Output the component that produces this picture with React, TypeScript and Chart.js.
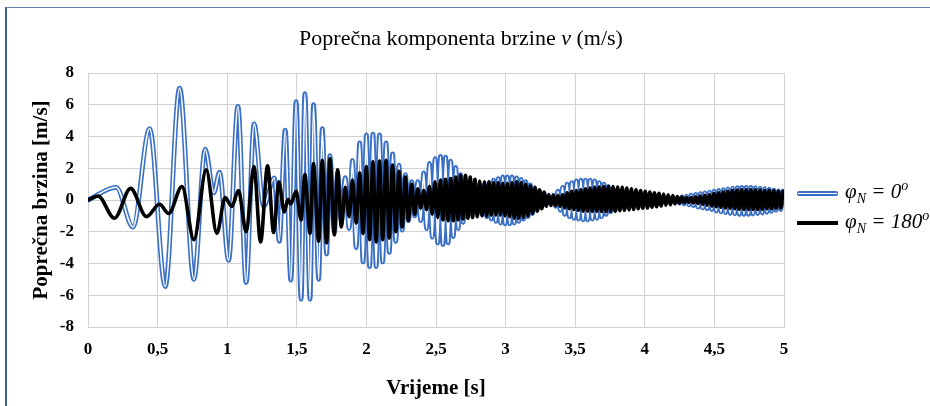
import React, { useEffect, useRef } from "react";
import { Chart, registerables } from "chart.js";

Chart.register(...registerables);

const SERIF = "'Liberation Serif', 'Times New Roman', serif";

const xTickLabels = ["0", "0,5", "1", "1,5", "2", "2,5", "3", "3,5", "4", "4,5", "5"];
const yTickLabels = ["-8", "-6", "-4", "-2", "0", "2", "4", "6", "8"];

// Early part (irregular oscillations), time [s] and value [m/s]
const blueEarlyT = [0, 0.203, 0.323, 0.443, 0.555, 0.658, 0.761, 0.842, 0.904, 0.945, 1.01, 1.077, 1.136, 1.193, 1.262, 1.338, 1.374, 1.417];
const blueEarlyV = [0, 0.8, -1.7, 4.5, -5.45, 7.05, -5.0, 3.2, 0.45, 1.75, -3.8, 5.9, -5.2, 4.8, -0.4, 1.4, -2.6, 4.4];

const blackEarlyT = [0, 0.072, 0.19, 0.306, 0.42, 0.514, 0.58, 0.675, 0.761, 0.849, 0.926, 0.985, 1.033, 1.081, 1.136, 1.192, 1.24, 1.29, 1.334, 1.371, 1.41, 1.437];
const blackEarlyV = [0, 0.25, -1.15, 0.73, -1.05, -0.27, -0.85, 0.85, -2.5, 1.9, -2.1, 0.15, -0.4, 0.6, -2.0, 2.1, -2.65, 2.15, -2.05, 1.15, -0.75, 0.05];

// Dense part: times of the maxima and minima of the oscillation
const topT = [
  1.495, 1.558, 1.62, 1.683, 1.738, 1.793, 1.848, 1.9, 1.952, 2.0,
  2.047, 2.094, 2.141, 2.188, 2.234, 2.28, 2.325, 2.369, 2.412, 2.453,
  2.493, 2.532, 2.569, 2.606, 2.642, 2.677, 2.712, 2.746, 2.78, 2.814,
  2.848, 2.881, 2.914, 2.947, 2.98, 3.013, 3.046, 3.079, 3.112, 3.145,
  3.178, 3.211, 3.244, 3.277, 3.31, 3.343, 3.376, 3.409, 3.442, 3.475,
  3.508, 3.541, 3.574, 3.607, 3.64, 3.673, 3.706, 3.739, 3.772, 3.805,
  3.838, 3.871, 3.904, 3.937, 3.97, 4.003, 4.036, 4.069, 4.102, 4.135,
  4.168, 4.201, 4.234, 4.267, 4.3, 4.333, 4.366, 4.399, 4.432, 4.465,
  4.498, 4.531, 4.564, 4.597, 4.63, 4.663, 4.696, 4.729, 4.762, 4.795,
  4.828, 4.861, 4.894, 4.927, 4.96, 4.993,
];
const bottomT = [
  1.457, 1.531, 1.595, 1.657, 1.714, 1.77, 1.82, 1.876, 1.926, 1.976,
  2.023, 2.07, 2.117, 2.164, 2.211, 2.257, 2.302, 2.347, 2.39, 2.432,
  2.473, 2.512, 2.55, 2.587, 2.624, 2.659, 2.694, 2.729, 2.763, 2.797,
  2.831, 2.864, 2.897, 2.93, 2.963, 2.996, 3.029, 3.062, 3.095, 3.128,
  3.161, 3.194, 3.227, 3.26, 3.293, 3.326, 3.359, 3.392, 3.425, 3.458,
  3.491, 3.524, 3.557, 3.59, 3.623, 3.656, 3.689, 3.722, 3.755, 3.788,
  3.821, 3.854, 3.887, 3.92, 3.953, 3.986, 4.019, 4.052, 4.085, 4.118,
  4.151, 4.184, 4.217, 4.25, 4.283, 4.316, 4.349, 4.382, 4.415, 4.448,
  4.481, 4.514, 4.547, 4.58, 4.613, 4.646, 4.679, 4.712, 4.745, 4.778,
  4.811, 4.844, 4.877, 4.91, 4.943, 4.976,
];

// φN = 0°
const blueTop = [
  6.2, 6.7, 6.0, 4.5, 2.8, 1.7, 1.4, 2.5, 3.6, 4.1,
  4.15, 4.1, 3.6, 2.9, 2.2, 1.6, 1.15, 1.15, 1.7, 2.3,
  2.6, 2.75, 2.7, 2.45, 2.05, 1.6, 1.2, 0.9, 0.75, 0.8,
  0.95, 1.1, 1.25, 1.35, 1.45, 1.45, 1.45, 1.4, 1.3, 1.15,
  0.95, 0.75, 0.55, 0.35, 0.2, 0.3, 0.55, 0.8, 1.0, 1.1,
  1.2, 1.25, 1.25, 1.25, 1.2, 1.1, 1.0, 0.85, 0.7, 0.6,
  0.5, 0.4, 0.35, 0.3, 0.25, 0.2, 0.2, 0.15, 0.15, 0.1,
  0.1, 0.1, 0.15, 0.2, 0.25, 0.3, 0.35, 0.4, 0.45, 0.5,
  0.55, 0.6, 0.65, 0.7, 0.75, 0.78, 0.8, 0.8, 0.8, 0.78,
  0.75, 0.72, 0.68, 0.62, 0.58, 0.55,
];
const blueBottom = [
  -5.05, -6.25, -6.25, -5.0, -3.4, -2.0, -1.3, -1.8, -3.0, -3.9,
  -4.2, -4.2, -3.9, -3.3, -2.6, -1.9, -1.3, -1.0, -1.3, -1.8,
  -2.35, -2.7, -2.8, -2.7, -2.3, -1.8, -1.4, -1.05, -0.85, -0.8,
  -0.9, -1.05, -1.2, -1.35, -1.45, -1.5, -1.5, -1.45, -1.35, -1.2,
  -1.05, -0.85, -0.65, -0.45, -0.25, -0.2, -0.4, -0.65, -0.9, -1.05,
  -1.15, -1.2, -1.25, -1.25, -1.2, -1.15, -1.05, -0.9, -0.75, -0.65,
  -0.55, -0.45, -0.4, -0.35, -0.3, -0.25, -0.2, -0.2, -0.15, -0.15,
  -0.1, -0.1, -0.15, -0.2, -0.25, -0.3, -0.35, -0.45, -0.5, -0.55,
  -0.6, -0.7, -0.75, -0.8, -0.85, -0.88, -0.9, -0.9, -0.9, -0.88,
  -0.85, -0.82, -0.78, -0.72, -0.65, -0.6,
];

// φN = 180°
const blackTop = [
  0.55, 1.6, 2.3, 2.5, 2.6, 1.9, 0.8, 1.25, 1.7, 2.1,
  2.4, 2.45, 2.5, 2.2, 1.8, 1.45, 1.0, 0.7, 0.6, 0.85,
  1.15, 1.25, 1.3, 1.35, 1.45, 1.55, 1.55, 1.45, 1.3, 1.2,
  1.15, 1.15, 1.1, 1.1, 1.05, 1.05, 1.1, 1.15, 1.1, 1.0,
  0.9, 0.8, 0.65, 0.5, 0.35, 0.3, 0.3, 0.35, 0.45, 0.55,
  0.6, 0.65, 0.7, 0.75, 0.8, 0.82, 0.85, 0.85, 0.85, 0.82,
  0.8, 0.75, 0.7, 0.65, 0.6, 0.55, 0.5, 0.45, 0.42, 0.38,
  0.33, 0.28, 0.22, 0.18, 0.15, 0.15, 0.2, 0.25, 0.3, 0.35,
  0.4, 0.45, 0.5, 0.55, 0.6, 0.62, 0.65, 0.65, 0.65, 0.65,
  0.62, 0.6, 0.6, 0.58, 0.55, 0.55,
];
const blackBottom = [
  -0.25, -1.25, -2.1, -2.6, -2.7, -2.2, -1.7, -1.05, -1.45, -2.1,
  -2.5, -2.65, -2.5, -2.4, -2.0, -1.7, -1.3, -0.9, -0.5, -0.6,
  -0.9, -1.1, -1.25, -1.3, -1.3, -1.25, -1.2, -1.15, -1.1, -1.05,
  -1.0, -1.0, -0.95, -0.95, -0.95, -1.0, -1.05, -1.15, -1.15, -1.1,
  -1.0, -0.85, -0.7, -0.55, -0.4, -0.35, -0.35, -0.4, -0.5, -0.55,
  -0.6, -0.65, -0.7, -0.7, -0.72, -0.72, -0.72, -0.72, -0.7, -0.7,
  -0.68, -0.65, -0.62, -0.6, -0.55, -0.52, -0.5, -0.45, -0.42, -0.38,
  -0.33, -0.3, -0.25, -0.2, -0.17, -0.15, -0.18, -0.22, -0.28, -0.33,
  -0.38, -0.42, -0.45, -0.5, -0.52, -0.55, -0.58, -0.6, -0.6, -0.6,
  -0.6, -0.58, -0.55, -0.55, -0.52, -0.5,
];

function buildSeries(earlyT: number[], earlyV: number[], tops: number[], bottoms: number[]) {
  const pts = earlyT.map((x, i) => ({ x, y: earlyV[i] }));
  for (let i = 0; i < bottomT.length; i++) {
    pts.push({ x: bottomT[i], y: bottoms[i] });
    pts.push({ x: topT[i], y: tops[i] });
  }
  return pts;
}

const BLUE = "#3a6fc6";
const GRID = "#d2d2d2";

export default function App() {
  const canvasRef = useRef<HTMLCanvasElement | null>(null);

  useEffect(() => {
    const canvas = canvasRef.current;
    if (!canvas) return;
    const blackPts = buildSeries(blackEarlyT, blackEarlyV, blackTop, blackBottom);
    const bluePtsA = buildSeries(blueEarlyT, blueEarlyV, blueTop, blueBottom);
    const bluePtsB = buildSeries(blueEarlyT, blueEarlyV, blueTop, blueBottom);

    const tickFont = { family: SERIF, size: 17, weight: "bold" as const };

    const chart = new Chart(canvas, {
      type: "line",
      data: {
        datasets: [
          { label: "φN = 180°", data: blackPts, borderColor: "#000000", borderWidth: 3.6, order: 0 },
          { label: "inner", data: bluePtsB, borderColor: "#ffffff", borderWidth: 1.6, order: 1 },
          { label: "φN = 0°", data: bluePtsA, borderColor: BLUE, borderWidth: 4.8, order: 2 },
        ],
      },
      options: {
        animation: false,
        responsive: false,
        devicePixelRatio: 1,
        parsing: false,
        normalized: true,
        events: [],
        elements: {
          point: { radius: 0, hoverRadius: 0 },
          line: { cubicInterpolationMode: "monotone", borderJoinStyle: "round", borderCapStyle: "round", fill: false },
        },
        plugins: {
          legend: { display: false },
          tooltip: { enabled: false },
          title: { display: false },
        },
        layout: { padding: { top: 73, right: 146, left: 0, bottom: 0 } },
        scales: {
          x: {
            type: "linear",
            min: 0,
            max: 5,
            afterFit: (s: any) => { s.height = 79; },
            ticks: {
              stepSize: 0.5,
              autoSkip: false,
              maxRotation: 0,
              padding: 12,
              color: "#000",
              font: tickFont,
              callback: (_v: any, i: number) => xTickLabels[i],
            },
            grid: { color: GRID, drawTicks: false, lineWidth: 1 },
            border: { color: GRID, width: 1 },
            title: {
              display: true,
              text: "Vrijeme [s]",
              color: "#000",
              font: { family: SERIF, size: 21, weight: "bold" },
              padding: { top: 0, bottom: 5 },
            },
          },
          y: {
            type: "linear",
            min: -8,
            max: 8,
            afterFit: (s: any) => { s.width = 88; },
            ticks: {
              stepSize: 2,
              padding: 14,
              color: "#000",
              font: tickFont,
              callback: (_v: any, i: number) => yTickLabels[i],
            },
            grid: { color: GRID, drawTicks: false, lineWidth: 1 },
            border: { color: GRID, width: 1 },
            title: {
              display: true,
              text: "Poprečna brzina [m/s]",
              color: "#000",
              font: { family: SERIF, size: 21, weight: "bold" },
              padding: { top: 29, bottom: 0 },
            },
          },
        },
      },
    } as any);
    return () => chart.destroy();
  }, []);

  const legendText: React.CSSProperties = {
    position: "absolute",
    left: 845,
    fontFamily: SERIF,
    fontStyle: "italic",
    fontSize: 21,
    lineHeight: "24px",
    whiteSpace: "nowrap",
    color: "#000",
  };
  const sub: React.CSSProperties = { fontSize: 14, position: "relative", top: 5 };
  const sup: React.CSSProperties = { fontSize: 14, position: "relative", top: -8 };

  return (
    <div style={{ position: "absolute", left: 0, top: 0, width: 930, height: 406, background: "#fff", overflow: "hidden" }}>
      <div style={{ position: "absolute", left: 5, top: 7, width: 930, height: 410, borderLeft: "2px solid #3d5fa8", borderTop: "1px solid #6a7fa8", boxSizing: "border-box" }} />
      <canvas ref={canvasRef} width={930} height={406} style={{ position: "absolute", left: 0, top: 0, width: 930, height: 406 }} />
      <div style={{ position: "absolute", left: 0, top: 24, width: 922, textAlign: "center", fontFamily: SERIF, fontSize: 22, lineHeight: "28px", color: "#000", whiteSpace: "nowrap" }}>
        Poprečna komponenta brzine <i>v</i> (m/s)
      </div>
      <div style={{ position: "absolute", left: 797, top: 191, width: 41, height: 5, background: BLUE, borderRadius: 2 }} />
      <div style={{ position: "absolute", left: 798, top: 193, width: 39, height: 1, background: "#fff" }} />
      <div style={{ ...legendText, top: 179 }}>
        φ<span style={sub}>N</span> = 0<span style={sup}>o</span>
      </div>
      <div style={{ position: "absolute", left: 797, top: 221, width: 41, height: 4, background: "#000" }} />
      <div style={{ ...legendText, top: 209 }}>
        φ<span style={sub}>N</span> = 180<span style={sup}>o</span>
      </div>
    </div>
  );
}
